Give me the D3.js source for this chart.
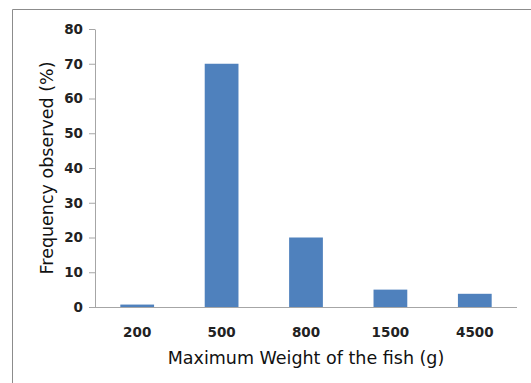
<!DOCTYPE html>
<html><head><meta charset="utf-8">
<script src="https://cdn.jsdelivr.net/npm/d3@7"></script>
<style>body{margin:0;background:#fff}svg{display:block}</style>
</head><body>
<script>
const categories = ["200","500","800","1500","4500"];
const values = [0.7, 70, 20, 5, 3.8];
const yTicks = [0,10,20,30,40,50,60,70,80];
const xTitle = "Maximum Weight of the fish (g)";
const yTitle = "Frequency observed (%)";

const W = 531, H = 383;
const m = {left:95, right:14, top:29, bottom:76};
const svg = d3.select("body").append("svg").attr("width",W).attr("height",H);

// outer frame (partially visible)
svg.append("path").attr("d","M12.5,383 V9.5 H531").attr("fill","none").attr("stroke","#8c8c8c").attr("stroke-width",1);

const x = d3.scaleBand().domain(categories).range([m.left, W-m.right]).paddingInner(0.6).paddingOuter(0.3);
const y = d3.scaleLinear().domain([0,80]).range([H-m.bottom, m.top]);

svg.append("g").selectAll("rect").data(values).join("rect")
  .attr("x",(d,i)=>x(categories[i]))
  .attr("width",x.bandwidth())
  .attr("y",d=>y(d))
  .attr("height",d=>y(0)-y(d))
  .attr("fill","#4F81BD");

const font = "DejaVu Sans, Verdana, sans-serif";
const yAxis = svg.append("g").attr("transform",`translate(${m.left},0)`)
  .call(d3.axisLeft(y).tickValues(yTicks).tickSize(6).tickSizeOuter(0));
yAxis.select(".domain").attr("stroke","#a6a6a6");
yAxis.selectAll(".tick line").attr("stroke","#a6a6a6");
yAxis.selectAll("text").attr("font-family",font).attr("font-size","13.5px").attr("font-weight","bold").attr("fill","#222").attr("x",-12);

const xAxis = svg.append("g").attr("transform",`translate(0,${y(0)})`)
  .call(d3.axisBottom(x).tickSize(0).tickSizeOuter(0));
xAxis.select(".domain").attr("stroke","#a6a6a6").attr("d",`M${m.left-6},0.5H${W-m.right}`);
xAxis.selectAll("text").attr("font-family",font).attr("font-size","13.5px").attr("font-weight","bold").attr("fill","#222").attr("dy","0").attr("y",30);

svg.append("text").attr("x",(m.left+W-m.right)/2+0).attr("y",364)
  .attr("text-anchor","middle").attr("font-family",font).attr("font-size","17.5px").attr("fill","#111").text(xTitle);

svg.append("text").attr("transform",`translate(53,${(y(0)+y(80))/2}) rotate(-90)`)
  .attr("text-anchor","middle").attr("font-family",font).attr("font-size","17.5px").attr("fill","#111").text(yTitle);
</script>
</body></html>
